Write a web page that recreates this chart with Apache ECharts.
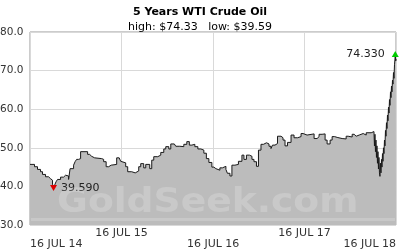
<!DOCTYPE html>
<html>
<head>
<meta charset="utf-8">
<script src="https://cdn.jsdelivr.net/npm/echarts@6/dist/echarts.min.js"></script>
<style>
html,body{margin:0;padding:0;background:#fff;}
#c{width:400px;height:250px;}
</style>
</head>
<body>
<div id="c"></div>
<script>
const chartTitle = '5 Years WTI Crude Oil';
const chartSubtitle = 'high: $74.33   low: $39.59';
const tickDates = ['2014-07-16','2015-07-16','2016-07-16','2017-07-16','2018-07-16'];
const tickLabels = ['16 JUL 14','16 JUL 15','16 JUL 16','16 JUL 17','16 JUL 18'];
const yTicks = [30, 40, 50, 60, 70, 80];
const dates = [
'2014-07-16','2014-08-03','2014-08-15','2014-08-27','2014-09-04','2014-09-16','2014-09-28','2014-10-06','2014-10-14','2014-10-18',
'2014-10-24','2014-10-28','2014-11-03','2014-11-15','2014-11-27','2014-12-05','2014-12-17','2014-12-23','2015-01-06','2015-01-12',
'2015-01-18','2015-01-26','2015-02-03','2015-03-03','2015-03-11','2015-03-19','2015-03-31','2015-04-28','2015-05-06','2015-05-16',
'2015-05-26','2015-06-05','2015-06-27','2015-07-07','2015-07-13','2015-07-17','2015-08-02','2015-08-10','2015-08-26','2015-09-09',
'2015-09-23','2015-10-01','2015-10-13','2015-10-21','2015-11-06','2015-11-14','2015-11-22','2015-12-08','2015-12-20','2016-01-01',
'2016-01-09','2016-01-21','2016-01-29','2016-02-12','2016-02-18','2016-03-05','2016-03-21','2016-04-02','2016-04-12','2016-04-22',
'2016-05-04','2016-05-16','2016-05-28','2016-06-09','2016-06-19','2016-06-29','2016-07-11','2016-07-19','2016-07-27','2016-08-12',
'2016-08-22','2016-09-05','2016-09-11','2016-09-21','2016-09-29','2016-10-11','2016-10-25','2016-11-08','2016-11-16','2016-11-26',
'2016-12-08','2016-12-18','2016-12-26','2017-01-05','2017-01-13','2017-01-23','2017-02-02','2017-02-14','2017-02-24','2017-03-04',
'2017-03-10','2017-03-20','2017-03-30','2017-04-13','2017-04-21','2017-04-29','2017-05-09','2017-05-23','2017-06-04','2017-06-18',
'2017-07-02','2017-07-10','2017-07-26','2017-08-23','2017-09-04','2017-09-12','2017-09-24','2017-10-06','2017-10-14','2017-10-26',
'2017-11-03','2017-11-13','2017-11-23','2017-12-13','2017-12-29','2018-01-06','2018-01-22','2018-01-30','2018-02-07','2018-02-19',
'2018-03-07','2018-03-19','2018-04-08','2018-04-19',
'2018-04-21','2018-04-23','2018-04-25','2018-04-27','2018-04-29','2018-05-01','2018-05-03','2018-05-05','2018-05-07','2018-05-09',
'2018-05-11','2018-05-13','2018-05-15','2018-05-17','2018-05-19','2018-05-21','2018-05-23','2018-05-25','2018-05-27','2018-05-29',
'2018-05-31','2018-06-02','2018-06-04','2018-06-06','2018-06-08','2018-06-10','2018-06-12','2018-06-14','2018-06-16','2018-06-18',
'2018-06-20','2018-06-22','2018-06-24','2018-06-26','2018-06-28','2018-06-30','2018-07-02','2018-07-04','2018-07-06','2018-07-08',
'2018-07-10','2018-07-12','2018-07-13','2018-07-15','2018-07-16'
];
const prices = [
45.7,45.1,44.4,43.8,43.1,42.5,42.0,41.6,40.6,39.59,
40.6,41.2,41.8,42.4,42.9,42.7,41.8,44.6,45.5,46.4,
47.0,47.2,49.0,48.3,47.8,47.4,47.2,47.0,46.4,45.1,
45.5,45.7,47.4,47.0,46.5,46.1,45.1,43.8,43.5,44.0,
45.1,45.9,44.8,45.7,44.6,46.8,47.7,48.1,48.8,49.7,
50.3,49.7,51.0,50.7,50.4,50.3,50.9,51.6,50.7,50.9,
50.3,49.7,49.4,48.6,47.2,46.2,45.0,44.6,44.2,44.8,
45.2,44.4,43.4,42.7,45.5,45.7,46.5,48.1,47.0,48.1,
47.8,47.0,46.4,45.2,49.4,50.9,51.3,51.0,50.4,49.8,
50.7,51.1,53.0,52.6,52.0,50.5,51.4,53.3,52.6,52.9,
53.7,53.3,53.6,52.4,52.9,53.5,53.6,52.0,51.0,52.0,
52.9,52.7,52.4,52.3,53.0,52.8,53.5,53.0,53.3,53.7,
53.3,53.9,54.2,54.6,
50.5,53.5,49.0,52.0,47.5,50.5,46.0,49.0,44.5,47.5,
43.5,42.6,46.0,43.5,47.0,45.0,48.5,46.5,50.0,48.5,
52.0,50.5,54.5,53.0,56.5,55.0,58.5,57.0,60.5,59.0,
62.5,61.0,64.5,63.0,66.0,64.5,67.5,66.5,69.5,68.0,
71.5,73.0,74.33,72.5,73.0
];
const watermark = 'GoldSeek.com';

const toTime = s => { const p = s.split('-'); return Date.UTC(+p[0], +p[1] - 1, +p[2]); };
const seriesData = dates.map((d, i) => [toTime(d), prices[i]]);
const tickTimes = tickDates.map(toTime);
const upperTicks = tickTimes.filter((t, i) => i % 2 === 1);
const lowerTicks = tickTimes.filter((t, i) => i % 2 === 0);
const labelFor = v => {
  for (let i = 0; i < tickTimes.length; i++) {
    if (Math.abs(tickTimes[i] - v) < 43200000) return tickLabels[i];
  }
  return '';
};
const FONT = 'DejaVu Sans';
const chart = echarts.init(document.getElementById('c'), null, {renderer: 'canvas'});
const xCommon = {
  type: 'value',
  min: tickTimes[0],
  max: tickTimes[tickTimes.length - 1],
  position: 'bottom',
  axisLine: {show: false}
};
chart.setOption({
  animation: false,
  backgroundColor: '#fff',
  title: [
    {text: chartTitle, left: 'center', top: 2, textStyle: {fontFamily: FONT, fontSize: 11, fontWeight: 'bold', color: '#000'}},
    {text: chartSubtitle, left: 'center', top: 17, textStyle: {fontFamily: FONT, fontSize: 11, fontWeight: 'normal', color: '#000'}}
  ],
  grid: {left: 30, right: 4, top: 32, bottom: 25, show: true, borderColor: '#999', borderWidth: 1, backgroundColor: '#fff', containLabel: false, outerBoundsMode: 'none'},
  xAxis: [
    Object.assign({}, xCommon, {
      axisTick: {show: false, customValues: tickTimes},
      splitLine: {show: true, lineStyle: {color: '#d9d9d9', width: 1}},
      axisLabel: {customValues: upperTicks, formatter: labelFor, margin: 3, fontFamily: FONT, fontSize: 11, color: '#333'}
    }),
    Object.assign({}, xCommon, {
      splitLine: {show: false},
      axisTick: {show: false, customValues: lowerTicks},
      axisLabel: {customValues: lowerTicks, formatter: labelFor, margin: 14, fontFamily: FONT, fontSize: 11, color: '#333', alignMinLabel: 'left', alignMaxLabel: 'right'}
    })
  ],
  yAxis: {
    type: 'value', min: yTicks[0], max: yTicks[yTicks.length - 1], interval: 10,
    axisLine: {show: false}, axisTick: {show: false},
    splitLine: {lineStyle: {color: '#d9d9d9', width: 1}},
    axisLabel: {formatter: v => v.toFixed(1), margin: 6.5, fontFamily: FONT, fontSize: 10.5, color: '#333'}
  },
  graphic: [
    {
      type: 'text', x: 57, y: 187, scaleX: 1.14, z: 100, silent: true,
      style: {text: watermark, fontFamily: FONT, fontWeight: 'bold', fontSize: 33, fill: 'rgba(255,255,255,0.2)'}
    },
    {
      type: 'rect', shape: {x: 31, y: 218, width: 364, height: 3}, z: 100, silent: true,
      style: {fill: 'rgba(255,255,255,0.18)'}
    }
  ],
  series: [{
    type: 'line', xAxisIndex: 0, step: 'end', data: seriesData, showSymbol: false,
    lineStyle: {color: '#1a1a1a', width: 1},
    areaStyle: {color: '#bcbcbc', opacity: 1},
    markPoint: {
      silent: true,
      data: [
        {type: 'min', symbol: 'triangle', symbolRotate: 180, symbolSize: [7, 6], itemStyle: {color: '#dd0000'},
         label: {show: true, position: 'right', distance: 4, formatter: p => p.value.toFixed(3), fontFamily: FONT, fontSize: 11, color: '#222'}},
        {type: 'max', symbol: 'triangle', symbolSize: [7, 6], itemStyle: {color: '#00cc00'},
         label: {show: true, position: 'left', distance: 7, formatter: p => p.value.toFixed(3), fontFamily: FONT, fontSize: 11, color: '#222'}}
      ]
    }
  }]
});
</script>
</body>
</html>
